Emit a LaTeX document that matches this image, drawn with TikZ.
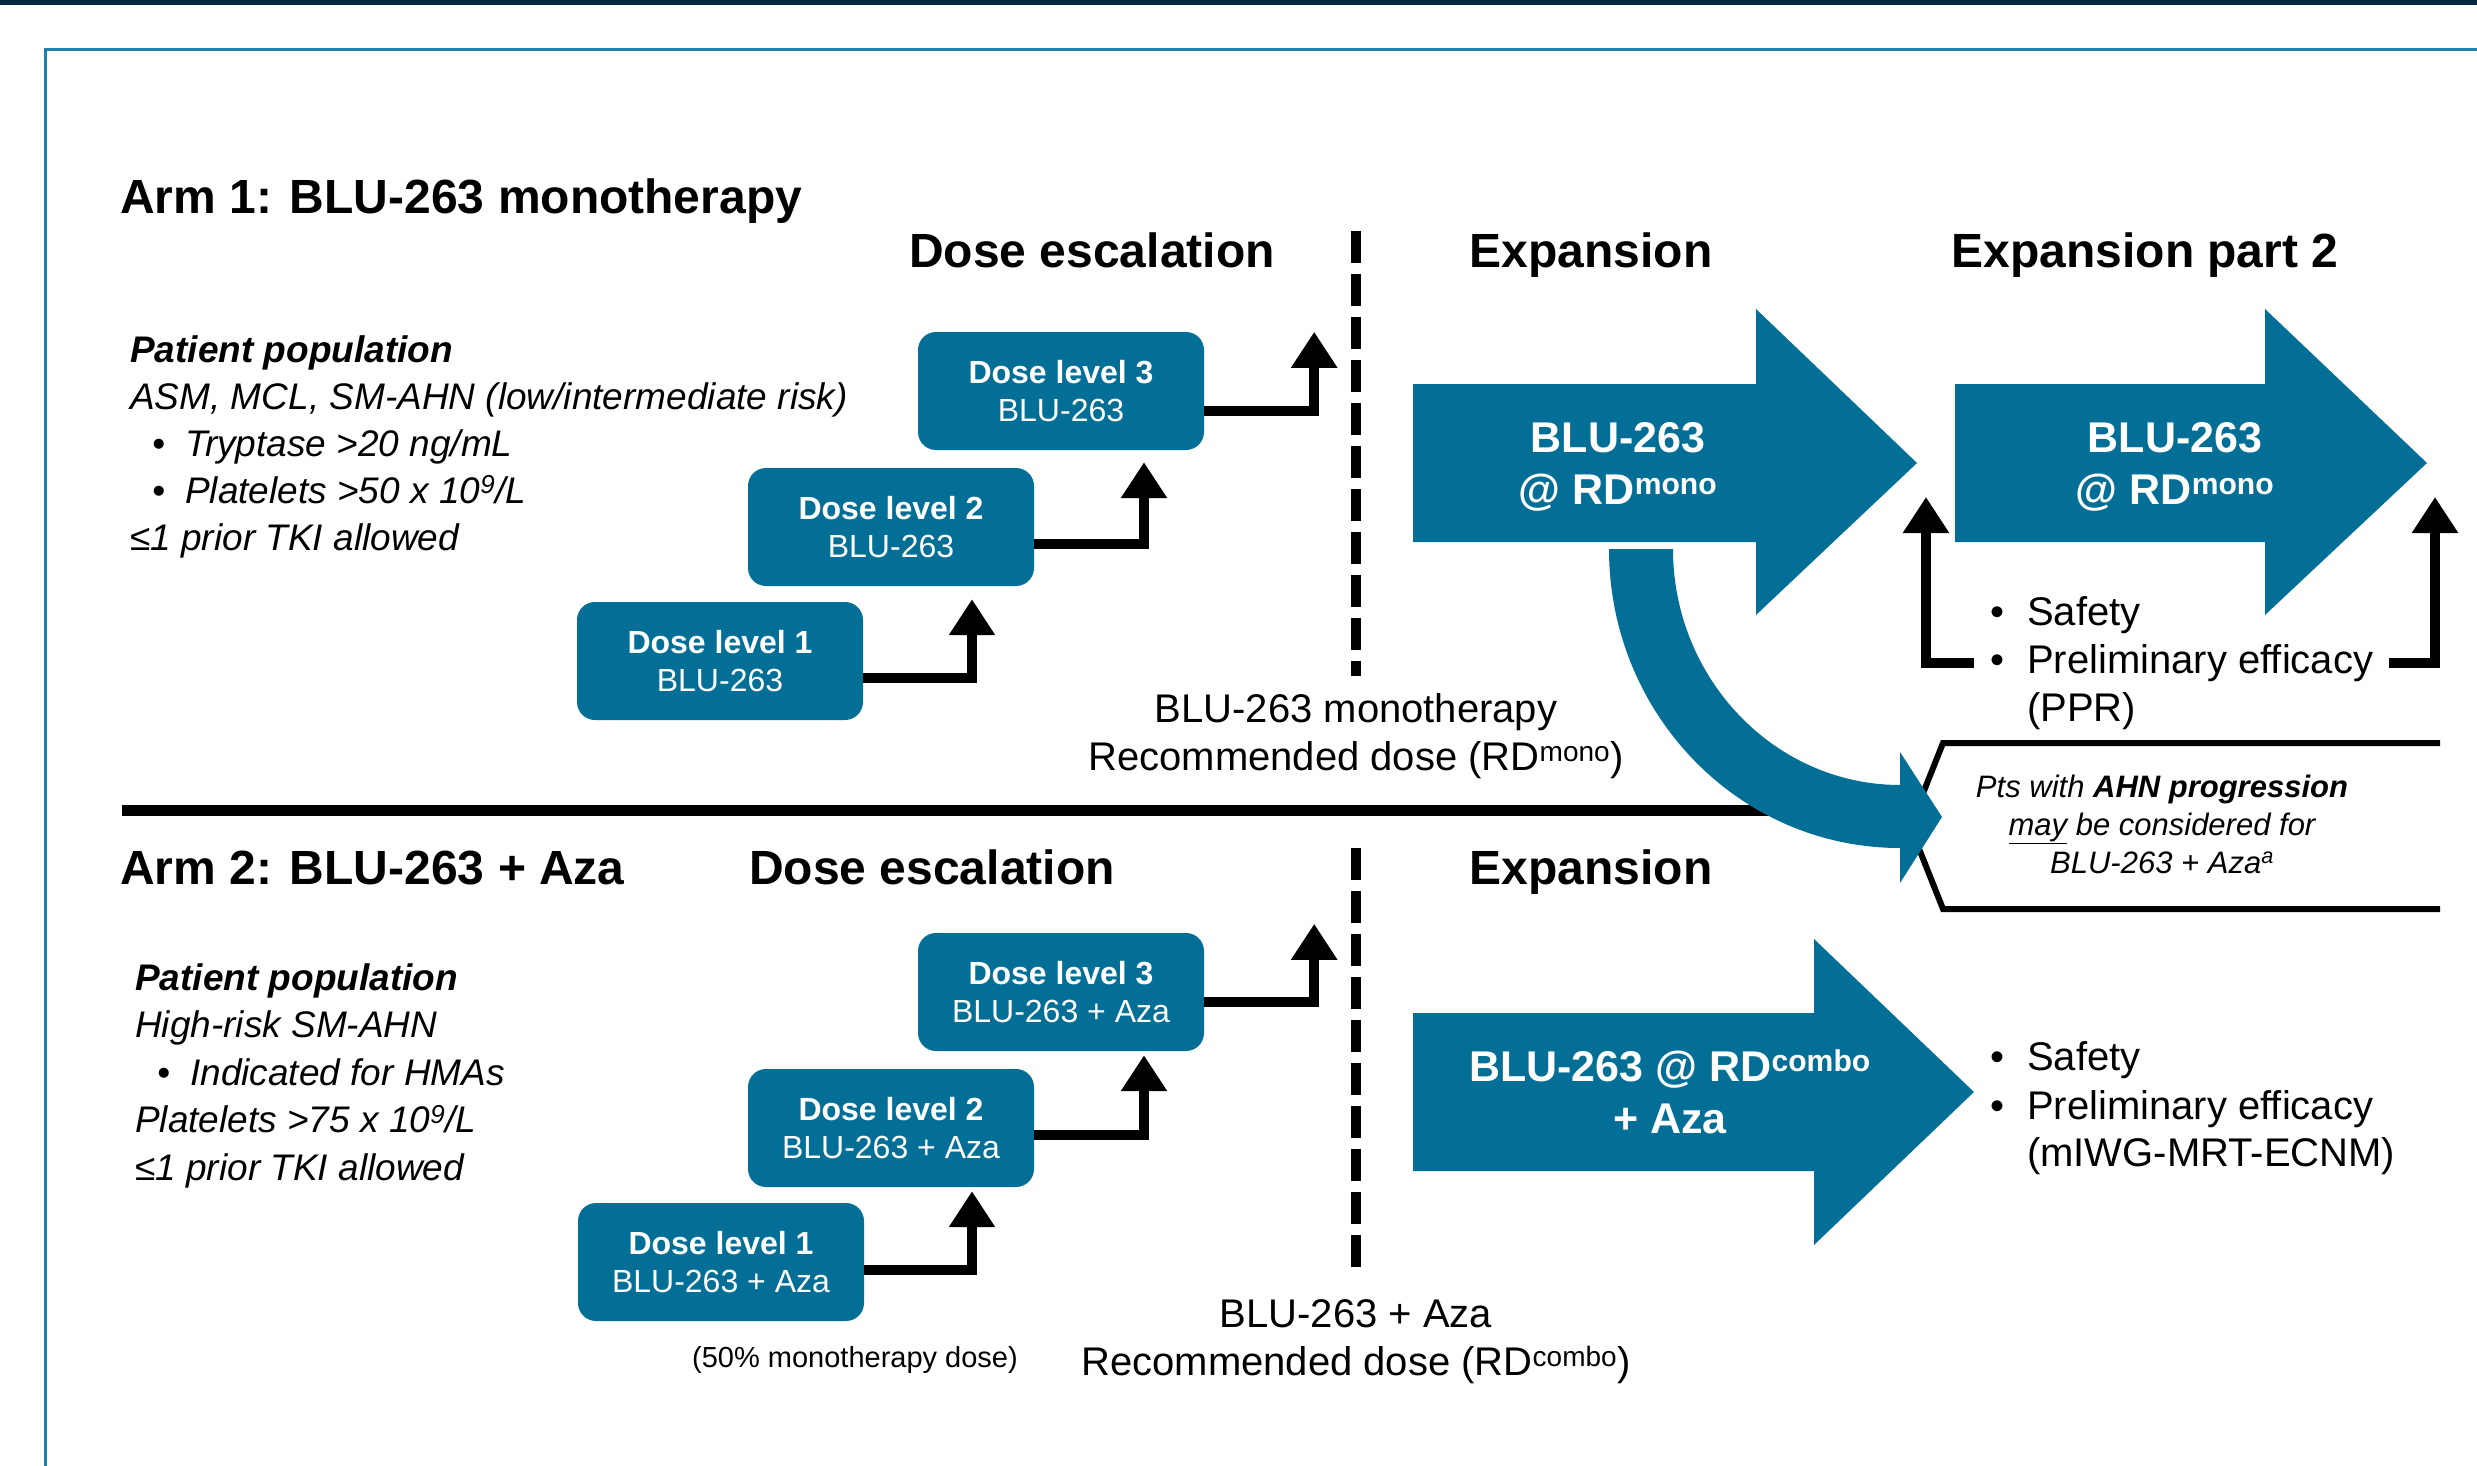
\documentclass[tikz,border=0pt]{standalone}
\usepackage{fontspec}
\setmainfont{Liberation Sans}
\usepackage{tikz}
\usetikzlibrary{arrows.meta,positioning,calc}
\definecolor{bluteal}{RGB}{4,111,150}
\definecolor{framecol}{RGB}{30,130,172}
\definecolor{topnavy}{RGB}{4,38,63}
\newcommand{\bulmark}{\makebox[37pt][l]{\textbullet}}
\newcommand{\bulgap}{\hspace*{37pt}}
\newcommand{\popmark}{\makebox[55pt][l]{\hspace*{22pt}\textbullet}}

\tikzset{
  dosebox/.style={fill=bluteal, rounded corners=18pt, minimum width=286pt, minimum height=118pt,
    inner sep=0pt, text=white, align=center, font=\fontsize{32}{38}\selectfont},
  stair/.style={line width=10pt, -{Triangle[length=36pt,width=44pt]}},
  divider/.style={line width=10pt, dash pattern=on 32pt off 11pt},
  armtitle/.style={anchor=base west, inner sep=0pt, font=\bfseries\fontsize{48}{58}\selectfont},
  phase/.style={anchor=base, inner sep=0pt, font=\bfseries\fontsize{48}{58}\selectfont},
  poptext/.style={anchor=base west, inner sep=0pt, align=left, font=\itshape\fontsize{37}{47}\selectfont},
  rdlabel/.style={inner sep=0pt, align=center, font=\fontsize{40}{48}\selectfont},
  armlabel/.style={anchor=base, inner sep=0pt, align=center, text=white, font=\bfseries\fontsize{43}{52}\selectfont},
  bultext/.style={anchor=base west, inner xsep=16pt, inner ysep=0pt, font=\fontsize{40}{48}\selectfont},
  ahnnote/.style={anchor=base, inner sep=0pt, align=center, font=\itshape\fontsize{31}{38}\selectfont}
}

\begin{document}
\begin{tikzpicture}[x=1pt, y=-1pt]
  \useasboundingbox (0,0) rectangle (2477,1466);
  % frame
  \fill[topnavy] (0,0) rectangle (2477,5);
  \draw[framecol, line width=3pt] (2477,50) -- (45,50) -- (45,1466);

  % Arm 1
  \node[armtitle] (a1title) at (120,214) {Arm 1: BLU-263 monotherapy};
  \node[phase] (a1esc) at (1092,268) {Dose escalation};
  \node[phase] (a1exp) at (1591,268) {Expansion};
  \node[phase] (a1exp2) at (2145,268) {Expansion part 2};
  \node[poptext] (a1pop) at (130,550) {\textbf{Patient population}\\
    ASM, MCL, SM-AHN (low/intermediate risk)\\
    \popmark Tryptase >20 ng/mL\\
    \popmark Platelets >50 x 10\textsuperscript{9}/L\\
    ≤1 prior TKI allowed};
  \foreach \lvl/\x/\y in {1/720/661,2/891/527,3/1061/391}
    \node[dosebox] (a1dl\lvl) at (\x,\y) {\textbf{Dose level \lvl}\\BLU-263};
  \coordinate (a1top) at ([xshift=110pt]a1dl3.north east);
  \draw[stair] ([yshift=-17pt]a1dl1.east) -| ([xshift=81pt,yshift=-13pt]a1dl2.south);
  \draw[stair] ([yshift=-17pt]a1dl2.east) -| ([xshift=83pt,yshift=-12pt]a1dl3.south);
  \draw[stair] ([yshift=-20pt]a1dl3.east) -| (a1top);
  \coordinate (a1dtop) at (1356,231);
  \coordinate (a1dbot) at (1356,676);
  \draw[divider] (a1dtop) -- (a1dbot);
  \node[rdlabel, below=17pt of a1dbot] (a1rd) {BLU-263 monotherapy\\Recommended dose (RD\textsuperscript{mono})};
  % expansion arrows
  \fill[bluteal] (1413,384) -- (1756,384) -- (1756,309) -- (1917,463) -- (1756,615) -- (1756,542) -- (1413,542) -- cycle;
  \fill[bluteal] (1955,384) -- (2265,384) -- (2265,309) -- (2427,463) -- (2265,615) -- (2265,542) -- (1955,542) -- cycle;
  \node[armlabel] (a1mono) at (1618,504) {BLU-263\\@ RD\textsuperscript{mono}};
  \node[armlabel] (a1mono2) at (2175,504) {BLU-263\\@ RD\textsuperscript{mono}};
  \node[bultext] (a1safe) at (1974,625) {\bulmark Safety};
  \node[bultext] (a1eff) at (1974,673) {\bulmark Preliminary efficacy};
  \node[bultext] (a1ppr) at (1974,721) {\bulgap (PPR)};
  \coordinate (a1tipL) at (1926,497);
  \coordinate (a1tipR) at (2435,497);
  \draw[stair] (a1eff.west) -| (a1tipL);
  \draw[stair] (a1eff.east) -| (a1tipR);

  % separator
  \coordinate (sepL) at (122,810);
  \coordinate (sepR) at (1780,810);
  \draw[line width=11pt] (sepL) -- (sepR);

  % AHN progression box
  \draw[line width=6pt] (2440,743) -- (1943,743) -- (1910,826) -- (1943,909) -- (2440,909);
  \node[ahnnote] (ahn) at (2162,873) {Pts with \textbf{AHN progression}\\\underline{may} be considered for\\BLU-263 + Aza\textsuperscript{a}};
  % curved arrow
  \fill[bluteal] (1609,549) .. controls (1609,714) and (1739,848) .. (1900,848) -- (1900,883) -- (1942,817)
    -- (1900,752) -- (1900,785) .. controls (1775,785) and (1673,679) .. (1673,549) -- cycle;

  % Arm 2
  \node[armtitle] (a2title) at (120,884) {Arm 2: BLU-263 + Aza};
  \node[phase] (a2esc) at (932,884) {Dose escalation};
  \node[phase] (a2exp) at (1591,884) {Expansion};
  \node[poptext, font=\itshape\fontsize{37}{47.5}\selectfont] (a2pop) at (135,1180) {\textbf{Patient population}\\
    High-risk SM-AHN\\
    \popmark Indicated for HMAs\\
    Platelets >75 x 10\textsuperscript{9}/L\\
    ≤1 prior TKI allowed};
  \foreach \lvl/\x/\y in {1/721/1262,2/891/1128,3/1061/992}
    \node[dosebox] (a2dl\lvl) at (\x,\y) {\textbf{Dose level \lvl}\\BLU-263 + Aza};
  \coordinate (a2top) at ([xshift=110pt,yshift=9pt]a2dl3.north east);
  \draw[stair] ([yshift=-8pt]a2dl1.east) -| ([xshift=81pt,yshift=-4pt]a2dl2.south);
  \draw[stair] ([yshift=-7pt]a2dl2.east) -| ([xshift=83pt,yshift=-4pt]a2dl3.south);
  \draw[stair] ([yshift=-10pt]a2dl3.east) -| (a2top);
  \node[anchor=base, inner sep=0pt, font=\fontsize{29}{35}\selectfont] (a2half) at (855,1367) {(50\% monotherapy dose)};
  \coordinate (a2dtop) at (1356,848);
  \coordinate (a2dbot) at (1356,1275);
  \draw[divider] (a2dtop) -- (a2dbot);
  \node[rdlabel, below=24pt of a2dbot] (a2rd) {BLU-263 + Aza\\Recommended dose (RD\textsuperscript{combo})};
  \fill[bluteal] (1413,1013) -- (1814,1013) -- (1814,939) -- (1974,1092) -- (1814,1245) -- (1814,1171) -- (1413,1171) -- cycle;
  \node[armlabel] (a2combo) at (1670,1133) {BLU-263 @ RD\textsuperscript{combo}\\+ Aza};
  \node[bultext] (a2safe) at (1974,1070) {\bulmark Safety};
  \node[bultext] (a2eff) at (1974,1119) {\bulmark Preliminary efficacy};
  \node[bultext] (a2mrt) at (1974,1166) {\bulgap (mIWG-MRT-ECNM)};
\end{tikzpicture}
\end{document}
